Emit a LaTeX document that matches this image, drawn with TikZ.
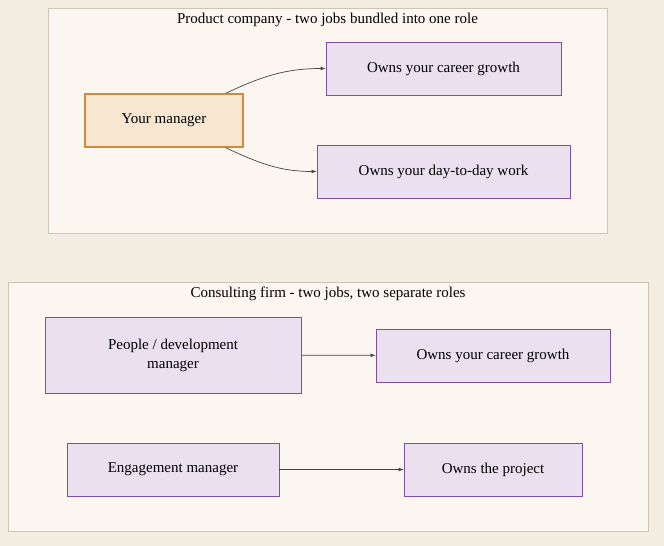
\documentclass[tikz,border=0pt]{standalone}
\usepackage{fontspec}
\setmainfont{Liberation Serif}
\usetikzlibrary{positioning}
\definecolor{pagebg}{HTML}{F3ECE0}
\definecolor{panelbg}{HTML}{FBF6EF}
\definecolor{paneledge}{HTML}{CFC5B5}
\definecolor{rolebg}{HTML}{EAE0F0}
\definecolor{roleedge}{HTML}{7E4FA8}
\definecolor{mgrbg}{HTML}{F7E6D0}
\definecolor{mgredge}{HTML}{D08A3A}
\definecolor{arrowcol}{HTML}{444444}
\tikzset{
  panel/.style={draw=paneledge, fill=panelbg, line width=0.8pt},
  role/.style={draw=roleedge, fill=rolebg, line width=0.8pt, font=\fontsize{15}{19}\selectfont, align=center},
  mgr/.style={draw=mgredge, fill=mgrbg, line width=1.5pt, font=\fontsize{15}{19}\selectfont},
  link/.style={draw=arrowcol, line width=0.7pt, -latex},
  paneltitle/.style={font=\fontsize{15}{19}\selectfont}
}
\begin{document}
\begin{tikzpicture}[x=1pt,y=-1pt]
  \fill[pagebg] (0,0) rectangle (664,546);
  \useasboundingbox (0,0) rectangle (664,546);

  % product company
  \draw[panel] (48,8) rectangle (607,233);
  \node[paneltitle] (title_p) at (327.5,20) {Product company - two jobs bundled into one role};
  \node[mgr, minimum width=158pt, minimum height=53pt] (your_mgr) at (164,120.5) {Your manager};
  \node[role, minimum width=235pt, minimum height=53pt] (p_career) at (443.5,68.5) {Owns your career growth};
  \node[role, minimum width=253pt, minimum height=53pt] (p_daily) at (443.5,171.5) {Owns your day-to-day work};
  \draw[link] (your_mgr.north east) ++(-18,0) to[out=25,in=180] (p_career.west);
  \draw[link] (your_mgr.south east) ++(-18,0) to[out=-25,in=180] (p_daily.west);

  % consulting firm
  \draw[panel] (8,282) rectangle (648,531);
  \node[paneltitle] (title_c) at (328,294) {Consulting firm - two jobs, two separate roles};
  \node[role, minimum width=256pt, minimum height=76pt] (people_mgr) at (173,355) {People / development\\manager};
  \node[role, minimum width=234pt, minimum height=53pt] (c_career) at (493,355.5) {Owns your career growth};
  \node[role, minimum width=212pt, minimum height=53pt] (eng_mgr) at (173,469.5) {Engagement manager};
  \node[role, minimum width=178pt, minimum height=53pt] (c_project) at (493,469.5) {Owns the project};
  \draw[link] (people_mgr) -- (c_career);
  \draw[link] (eng_mgr) -- (c_project);
\end{tikzpicture}
\end{document}
